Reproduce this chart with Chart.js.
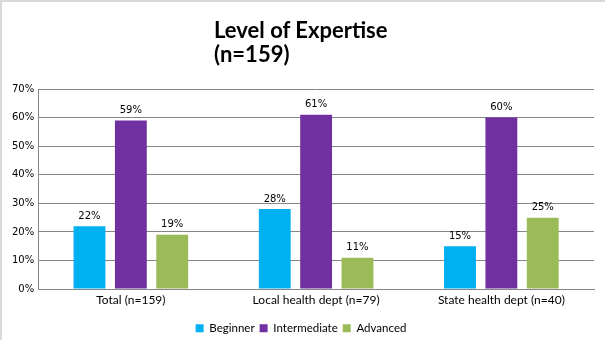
<!DOCTYPE html>
<html>
<head>
<meta charset="utf-8">
<script src="https://cdn.jsdelivr.net/npm/chart.js@4"></script>
<style>
  html, body { margin: 0; padding: 0; background: #fff; }
  #wrap {
    position: relative;
    width: 605px;
    height: 340px;
    box-sizing: border-box;
    border-top: 2px solid #d9d9d9;
    border-left: 2px solid #d9d9d9;
  }
  #title {
    position: absolute;
    left: 212px;
    top: 16px;
    font-family: Lato, sans-serif;
    font-weight: bold;
    font-size: 22px;
    line-height: 24px;
    color: #000;
  }
  canvas { position: absolute; left: 0; top: 0; }
</style>
</head>
<body>
<div id="wrap">
  <canvas id="chart" width="603" height="338"></canvas>
  <div id="title">Level of Expertise<br>(n=159)</div>
</div>
<script>
'use strict';

const categories = ['Total (n=159)', 'Local health dept (n=79)', 'State health dept (n=40)'];
const beginner = [22, 28, 15];
const intermediate = [59, 61, 60];
const advanced = [19, 11, 25];
const tickValues = [0, 10, 20, 30, 40, 50, 60, 70];

const colors = {
    beginner: '#00B0F0',
    intermediate: '#7030A0',
    advanced: '#9BBB59',
    grid: '#868686',
    text: '#000000',
};

// draws the percentage above each bar
const valueLabels = {
    id: 'valueLabels',
    afterDatasetsDraw(chart) {
        const ctx = chart.ctx;
        ctx.save();
        ctx.font = '10px "DejaVu Sans", sans-serif';
        ctx.fillStyle = colors.text;
        ctx.textAlign = 'center';
        ctx.textBaseline = 'bottom';
        chart.data.datasets.forEach((ds, i) => {
            chart.getDatasetMeta(i).data.forEach((bar, j) => {
                ctx.fillText(ds.data[j] + '%', bar.x, bar.y - 5);
            });
        });
        ctx.restore();
    }
};

new Chart(document.getElementById('chart'), {
    type: 'bar',
    data: {
        labels: categories,
        datasets: [
            { label: 'Beginner', data: beginner, backgroundColor: colors.beginner },
            { label: 'Intermediate', data: intermediate, backgroundColor: colors.intermediate },
            { label: 'Advanced', data: advanced, backgroundColor: colors.advanced },
        ]
    },
    options: {
        responsive: false,
        animation: false,
        categoryPercentage: 0.67,
        barPercentage: 0.77,
        layout: { padding: { top: 87, right: 11, left: 6, bottom: -4 } },
        plugins: {
            legend: {
                position: 'bottom',
                labels: {
                    boxWidth: 8,
                    boxHeight: 8,
                    padding: 5,
                    color: colors.text,
                    font: { family: 'Lato', size: 11.5 },
                }
            },
            tooltip: { enabled: false },
        },
        scales: {
            x: {
                grid: { display: false, drawTicks: false },
                border: { color: colors.grid },
                ticks: {
                    color: colors.text,
                    padding: 4,
                    font: { family: 'Lato', size: 12 },
                    maxRotation: 0,
                },
                afterFit: axis => { axis.height += 6; }
            },
            y: {
                min: 0,
                max: 70,
                afterBuildTicks: axis => { axis.ticks = tickValues.map(v => ({ value: v })); },
                grid: { color: colors.grid, drawTicks: false },
                border: { color: colors.grid },
                ticks: {
                    color: colors.text,
                    padding: 4,
                    font: { family: 'DejaVu Sans', size: 10 },
                    callback: v => v + '%',
                }
            }
        }
    },
    plugins: [valueLabels]
});
</script>
</body>
</html>
